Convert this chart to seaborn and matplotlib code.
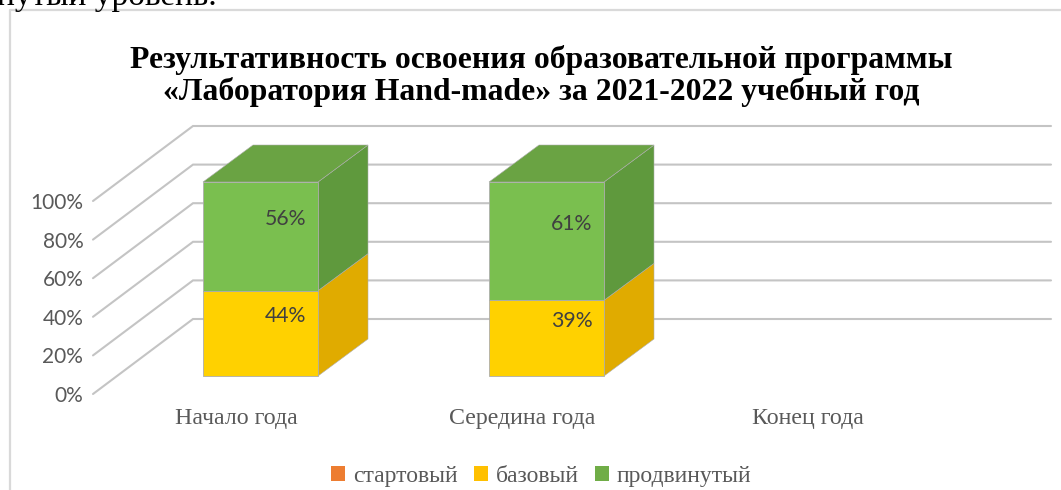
import numpy as np
import pandas as pd
import matplotlib
matplotlib.use("Agg")
import matplotlib.pyplot as plt
from matplotlib.patches import Patch, Polygon
from matplotlib.lines import Line2D
from matplotlib.transforms import ScaledTranslation
import seaborn as sns

categories = ["Начало года", "Середина года", "Конец года"]
start = [0, 0, np.nan]
base = [44, 39, np.nan]
advanced = [56, 61, np.nan]
ticks = [0, 20, 40, 60, 80, 100]
series_names = ["стартовый", "базовый", "продвинутый"]
title = "Результативность освоения образовательной программы\n«Лаборатория Hand-made» за 2021-2022 учебный год"
clipped_text = "нутый уровень."

W, H = 1061, 490
sns.set_theme(style="white")
plt.rcParams["font.family"] = ["Liberation Serif", "DejaVu Serif"]
fig = plt.figure(figsize=(W / 100, H / 100), dpi=100, facecolor="white")


def px_axes(x0, x1, y_bottom, y_top, **kw):
    return fig.add_axes([x0 / W, 1 - y_bottom / H, (x1 - x0) / W, (y_bottom - y_top) / H], **kw)


# Chart frame and the cropped line of page text
GRID = "#C4C4C4"
fig.add_artist(Line2D([9.5 / W, 9.5 / W, 1], [0, 1 - 10.5 / H, 1 - 10.5 / H], color="#D9D9D9", lw=1.6))
fig.text(-3 / W, 1 - 5.5 / H, clipped_text, fontsize=24, color="black", va="baseline", ha="left")
fig.text(541 / W, 1 - 76 / H, title, fontsize=22.9, fontweight="bold", color="black",
         ha="center", va="center", linespacing=1.12)

# Wall axes: front edge of the value axis, in pixel-wide x units
wall = px_axes(93, 1051, 394, 201)
wall.set_xlim(0, 958)
wall.set_ylim(0, 100)
wall.patch.set_alpha(0)
for s in wall.spines.values():
    s.set_visible(False)
wall.set_xticks([])
wall.set_yticks(ticks)
wall.set_yticklabels([f"{t}%" for t in ticks], fontfamily="Lato", fontsize=15, color="#595959")
wall.tick_params(axis="y", length=0, pad=7)
wall_dx, wall_dy = 100, 75 / 1.93
for t in ticks:
    wall.plot([0, wall_dx, 958], [t, t + wall_dy, t + wall_dy], color=GRID, lw=1.5, clip_on=False,
              solid_joinstyle="miter")

# Bar axes
ax = px_axes(117.5, 975.5, 376, 182)
ax.patch.set_alpha(0)
df = pd.DataFrame({"category": categories, "start": start, "base": base, "advanced": advanced})
front = {"start": "#ED7D31", "base": "#FFD100", "advanced": "#7ABF4F"}
side = {"start": "#C96A2A", "base": "#E0AB00", "advanced": "#5F993D"}
top_col = {"start": "#D5702C", "base": "#EDB500", "advanced": "#6AA343"}
bottoms = np.zeros(len(categories))
depth_x, depth_y = 50 / 286, 37 / 1.94
edge = "#ADADAD"
for key in ["start", "base", "advanced"]:
    n0 = len(ax.patches)
    vals = df[key].to_numpy(dtype=float)
    mask = np.isfinite(vals)
    sns.barplot(data=df, x="category", y=key, order=categories, color=front[key], saturation=1,
                width=115 / 286, bottom=bottoms[mask], errorbar=None, ax=ax, linewidth=0.6,
                edgecolor=edge, clip_on=False, zorder=3)
    for bar, v, b in zip(ax.patches[n0:], vals[mask], bottoms[mask]):
        if v == 0:
            bar.set_visible(False)
            continue
        x0, x1 = bar.get_x(), bar.get_x() + bar.get_width()
        y0, y1 = b, b + v
        ax.add_patch(Polygon([(x1, y0), (x1 + depth_x, y0 + depth_y), (x1 + depth_x, y1 + depth_y), (x1, y1)],
                             closed=True, facecolor=side[key], edgecolor=edge, lw=0.4, clip_on=False, zorder=2))
        if y1 >= 100:
            ax.add_patch(Polygon([(x0, y1), (x1, y1), (x1 + depth_x, y1 + depth_y), (x0 + depth_x, y1 + depth_y)],
                                 closed=True, facecolor=top_col[key], edgecolor=edge, lw=0.4, clip_on=False, zorder=2))
        ax.text((x0 + x1) / 2 + depth_x / 2, (y0 + y1) / 2 + depth_y / 2 - 0.6, f"{v:.0f}%", ha="center", va="center",
                fontfamily="Lato", fontsize=15.3, color="#404040", zorder=5)
    bottoms = bottoms + np.nan_to_num(vals)

ax.set_xlim(-0.5, 2.5)
ax.set_ylim(0, 100)
ax.set_xlabel("")
ax.set_ylabel("")
ax.set_yticks([])
for s in ax.spines.values():
    s.set_visible(False)
ax.tick_params(axis="x", length=0, pad=23)
ax.set_xticks(range(len(categories)))
ax.set_xticklabels(categories, fontsize=17.2, color="#595959")
shift = ScaledTranslation(-24.5 / 100, 0, fig.dpi_scale_trans)
for lab in ax.get_xticklabels():
    lab.set_transform(lab.get_transform() + shift)

# Legend
handles = [Patch(facecolor=c, edgecolor="none") for c in ["#ED7D31", "#FFC000", "#70AD47"]]
fig.legend(handles, series_names, loc="center", bbox_to_anchor=(541.5 / W, 1 - 476 / H), ncol=3, frameon=False,
           fontsize=17, labelcolor="#595959", handlelength=0.59, handleheight=0.59, handletextpad=0.34,
           columnspacing=0.68, borderpad=0)

fig.savefig("out.png", dpi=100, facecolor="white")
